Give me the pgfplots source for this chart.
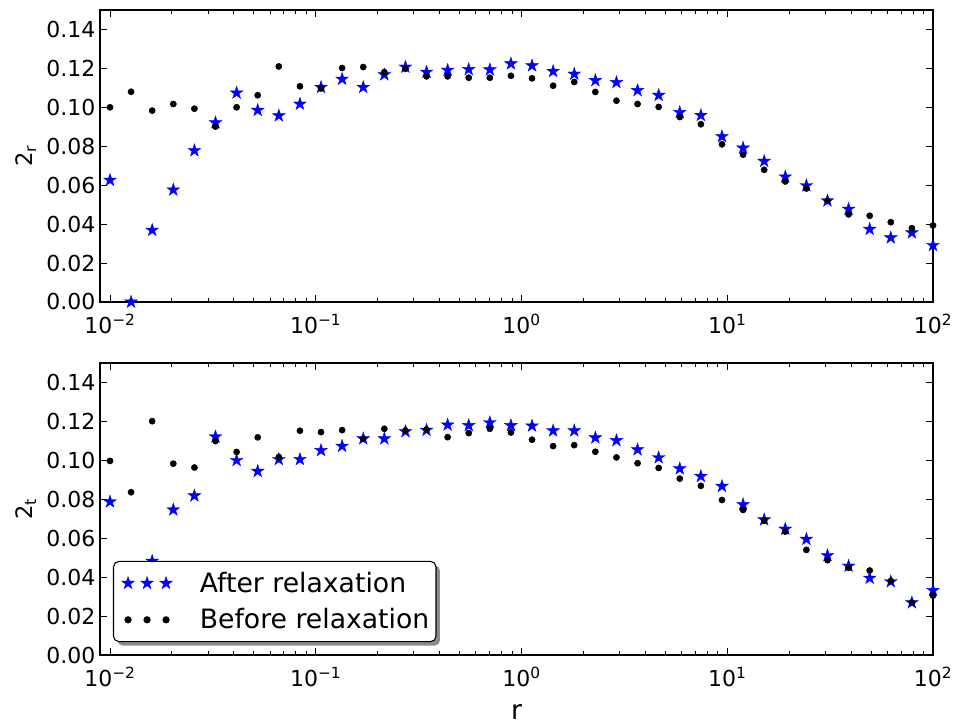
\documentclass[border=0pt]{standalone}
\usepackage{fontspec}
\setmainfont{DejaVu Sans}
\usepackage{pgfplots}
\pgfplotsset{compat=1.18}
\usepackage{pgfplotstable}
\usetikzlibrary{shadows}

\pgfdeclareplotmark{fstar}{%
 \pgfpathmoveto{\pgfpointpolar{90}{\pgfplotmarksize}}%
 \pgfpathlineto{\pgfpointpolar{126}{0.382*\pgfplotmarksize}}%
 \pgfpathlineto{\pgfpointpolar{162}{\pgfplotmarksize}}%
 \pgfpathlineto{\pgfpointpolar{198}{0.382*\pgfplotmarksize}}%
 \pgfpathlineto{\pgfpointpolar{234}{\pgfplotmarksize}}%
 \pgfpathlineto{\pgfpointpolar{270}{0.382*\pgfplotmarksize}}%
 \pgfpathlineto{\pgfpointpolar{306}{\pgfplotmarksize}}%
 \pgfpathlineto{\pgfpointpolar{342}{0.382*\pgfplotmarksize}}%
 \pgfpathlineto{\pgfpointpolar{18}{\pgfplotmarksize}}%
 \pgfpathlineto{\pgfpointpolar{54}{0.382*\pgfplotmarksize}}%
 \pgfpathclose
 \pgfusepathqfillstroke}

\pgfplotstableread{
k x ta tb ba bb
0 0.01 0.0626 0.1000 0.0787 0.0997
1 0.012663 0.0000 0.1080 0.0300 0.0836
2 0.016034 0.0369 0.0983 0.0482 0.1201
3 0.020309 0.0576 0.1017 0.0746 0.0983
4 0.025719 0.0778 0.0993 0.0818 0.0963
5 0.032570 0.0921 0.0901 0.1121 0.1099
6 0.041246 0.1074 0.1000 0.1000 0.1043
7 0.052233 0.0985 0.1062 0.0944 0.1118
8 0.066147 0.0957 0.1210 0.1005 0.1017
9 0.083768 0.1017 0.1108 0.1005 0.1152
10 0.10608 0.1103 0.1097 0.1051 0.1145
11 0.13434 0.1145 0.1202 0.1073 0.1155
12 0.17013 0.1103 0.1207 0.1111 0.1111
13 0.21544 0.1168 0.1181 0.1111 0.1162
14 0.27283 0.1207 0.1198 0.1148 0.1153
15 0.34551 0.1181 0.1159 0.1155 0.1158
16 0.43755 0.1191 0.1159 0.1182 0.1119
17 0.55403 0.1195 0.1152 0.1179 0.1140
18 0.70170 0.1193 0.1152 0.1194 0.1162
19 0.88862 0.1224 0.1162 0.1179 0.1143
20 1.1253 0.1214 0.1149 0.1177 0.1106
21 1.4251 0.1185 0.1111 0.1152 0.1073
22 1.8047 0.1171 0.1130 0.1152 0.1078
23 2.2855 0.1138 0.1079 0.1116 0.1044
24 2.8943 0.1128 0.1034 0.1102 0.1015
25 3.6652 0.1087 0.1017 0.1055 0.0985
26 4.6416 0.1062 0.1002 0.1014 0.0961
27 5.8780 0.0974 0.0950 0.0957 0.0906
28 7.4438 0.0959 0.0913 0.0918 0.0869
29 9.4267 0.0850 0.0810 0.0867 0.0796
30 11.938 0.0791 0.0757 0.0773 0.0745
31 15.118 0.0723 0.0679 0.0695 0.0690
32 19.145 0.0643 0.0619 0.0647 0.0634
33 24.245 0.0598 0.0583 0.0595 0.0540
34 30.703 0.0520 0.0520 0.0511 0.0487
35 38.882 0.0477 0.0450 0.0457 0.0448
36 49.239 0.0374 0.0443 0.0395 0.0434
37 62.355 0.0330 0.0410 0.0377 0.0380
38 78.965 0.0356 0.0379 0.0269 0.0269
39 100 0.0291 0.0393 0.0332 0.0305
}\datatab

\pgfplotsset{
  myax/.style={
    scale only axis, width=624.75pt, height=219pt,
    xmin=0.008941, xmax=100, ymin=0, ymax=0.15,
    xtick={0.01,0.1,1,10,100},
    xticklabels={10\textsuperscript{−2},10\textsuperscript{−1},10\textsuperscript{0},10\textsuperscript{1},10\textsuperscript{2}},
    minor xtick={0.02,0.03,0.04,0.05,0.06,0.07,0.08,0.09,0.2,0.3,0.4,0.5,0.6,0.7,0.8,0.9,2,3,4,5,6,7,8,9,20,30,40,50,60,70,80,90},
    ytick={0,0.02,0.04,0.06,0.08,0.1,0.12,0.14},
    tick align=inside, major tick length=5.5pt, minor tick length=3pt,
    axis line style={line width=0.9pt},
    every tick/.style={black, line width=0.7pt},
    tick label style={font=\fontsize{16.5}{19}\selectfont},
    yticklabel style={/pgf/number format/fixed, /pgf/number format/fixed zerofill, /pgf/number format/precision=2, /pgf/number format/assume math mode=true},
    xticklabel style={yshift=-5.5pt},
    ylabel style={at={(axis description cs:-0.0888,0.5)}, anchor=center, font=\fontsize{17}{20}\selectfont},
  },
  afterstyle/.style={only marks, mark=fstar, mark size=5pt, blue, mark options={fill=blue, draw=blue, line width=0.3pt},
    legend image code/.code={\path (-7.5pt,0pt) (51.5pt,0pt);\draw[##1, sharp corners, mark repeat=1, mark phase=1] plot coordinates {(0pt,0pt) (14.25pt,0pt) (28.5pt,0pt)};}},
  beforestyle/.style={only marks, mark=*, mark size=2.3pt, black, mark options={fill=black, draw=black},
    legend image code/.code={\path (-7.5pt,0pt) (51.5pt,0pt);\draw[##1, sharp corners, mark repeat=1, mark phase=1] plot coordinates {(0pt,0pt) (14.25pt,0pt) (28.5pt,0pt)};}},
}

\begin{document}
\begin{tikzpicture}
\useasboundingbox (0,0) rectangle (717.75pt,545.25pt);
\begin{semilogxaxis}[myax, at={(75pt,318.75pt)}, anchor=south west,
  ylabel={2\textsubscript{r}}]
\addplot[afterstyle] table[x=x, y=ta] {\datatab};
\addplot[beforestyle] table[x=x, y=tb] {\datatab};
\end{semilogxaxis}
\begin{semilogxaxis}[myax, at={(75pt,54pt)}, anchor=south west,
  ylabel={2\textsubscript{t}},
  xlabel={r},
  xlabel style={at={(axis description cs:0.5,-0.1945)}, anchor=center, font=\fontsize{20}{24}\selectfont},
  legend style={at={(axis description cs:0.0156,0.044)}, anchor=south west,
    draw=black, line width=0.8pt, rounded corners=4pt, fill=white,
    inner ysep=6pt, row sep=6.75pt,
    font=\fontsize{20}{24}\selectfont,
    drop shadow={shadow xshift=3pt, shadow yshift=-3pt, fill=black!45, opacity=1}},
  legend cell align=left]
\addplot[afterstyle] table[x=x, y=ba] {\datatab};
\addlegendentry{After relaxation}
\addplot[beforestyle] table[x=x, y=bb] {\datatab};
\addlegendentry{Before relaxation}
\end{semilogxaxis}
\end{tikzpicture}
\end{document}
